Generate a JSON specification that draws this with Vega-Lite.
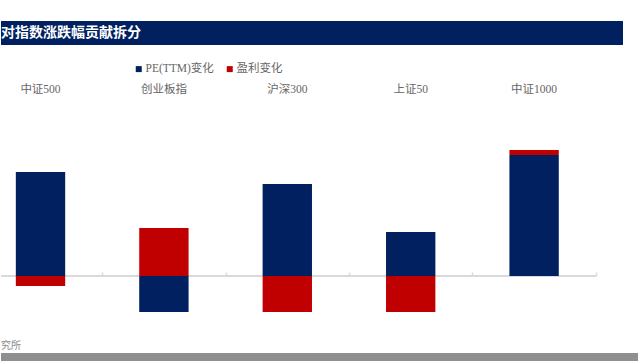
{
  "$schema": "https://vega.github.io/schema/vega-lite/v6.json",
  "padding": {"top": 21, "left": 0, "right": 0, "bottom": 0},
  "background": "white",
  "spacing": 0,
  "bounds": "flush",
  "config": {"view": {"stroke": null}},
  "vconcat": [
    {
      "width": 622,
      "height": 24,
      "view": {"fill": "#002060", "stroke": null},
      "title": {"text": "对指数涨跌幅贡献拆分", "orient": "bottom", "anchor": "start", "frame": "group", "offset": -12, "baseline": "middle", "fontSize": 14, "fontWeight": "bold", "color": "#ffffff", "font": "Noto Sans CJK SC"},
      "data": {"values": [{"t": ""}]},
      "mark": {"type": "text", "text": ""}
    },
    {
      "width": 595,
      "height": 308,
      "title": {"text": "究所", "orient": "bottom", "anchor": "start", "frame": "group", "offset": -12, "fontSize": 10, "fontWeight": "normal", "color": "#8a8a8a", "font": "Noto Sans CJK SC"},
      "data": {"values": [
        {"指数": "中证500", "项目": "PE(TTM)变化", "序": 1, "贡献": 10.4},
        {"指数": "中证500", "项目": "盈利变化", "序": 2, "贡献": -1.0},
        {"指数": "创业板指", "项目": "PE(TTM)变化", "序": 1, "贡献": -3.6},
        {"指数": "创业板指", "项目": "盈利变化", "序": 2, "贡献": 4.8},
        {"指数": "沪深300", "项目": "PE(TTM)变化", "序": 1, "贡献": 9.2},
        {"指数": "沪深300", "项目": "盈利变化", "序": 2, "贡献": -3.6},
        {"指数": "上证50", "项目": "PE(TTM)变化", "序": 1, "贡献": 4.4},
        {"指数": "上证50", "项目": "盈利变化", "序": 2, "贡献": -3.6},
        {"指数": "中证1000", "项目": "PE(TTM)变化", "序": 1, "贡献": 12.1},
        {"指数": "中证1000", "项目": "盈利变化", "序": 2, "贡献": 0.5}
      ]},
      "layer": [
        {
          "mark": {"type": "rule", "color": "#d9d9d9", "strokeWidth": 1.5},
          "encoding": {
            "y": {"datum": 0, "type": "quantitative", "scale": {"domain": [-7.7, 23.1], "nice": false, "zero": false}, "axis": null}
          }
        },
        {
          "mark": {"type": "bar", "width": {"band": 0.4}},
          "encoding": {
            "x": {"field": "指数", "type": "nominal", "sort": ["中证500", "创业板指", "沪深300", "上证50", "中证1000"],
                  "scale": {"range": [-22.2, 594.8], "paddingInner": 0, "paddingOuter": 0},
                  "axis": {"orient": "bottom", "offset": -77, "title": null, "labels": false, "domain": false,
                           "values": ["创业板指", "沪深300", "上证50", "中证1000"],
                           "tickBand": "extent", "tickSize": -4, "tickColor": "#d9d9d9", "tickWidth": 1.5}},
            "y": {"field": "贡献", "type": "quantitative", "stack": "zero", "scale": {"domain": [-7.7, 23.1], "nice": false, "zero": false}, "axis": null},
            "color": {"field": "项目", "type": "nominal",
                      "scale": {"domain": ["PE(TTM)变化", "盈利变化"], "range": ["#002060", "#C00000"]},
                      "legend": {"orient": "none", "legendX": 132, "legendY": 42, "direction": "horizontal", "title": null,
                                 "symbolType": "square", "symbolSize": 36, "symbolStrokeWidth": 0, "labelOffset": 1,
                                 "columnPadding": 10, "padding": 0,
                                 "labelFont": "Liberation Serif, Noto Sans CJK SC", "labelFontSize": 11.5, "labelColor": "#666666"}},
            "order": {"field": "序", "type": "quantitative"}
          }
        },
        {
          "mark": {"type": "text", "text": ""},
          "encoding": {
            "x": {"field": "指数", "type": "nominal", "sort": ["中证500", "创业板指", "沪深300", "上证50", "中证1000"],
                  "axis": {"orient": "top", "offset": -49, "title": null, "domain": false, "ticks": false, "tickSize": 0, "labelPadding": 0,
                           "labelFont": "Liberation Serif, Noto Sans CJK SC", "labelFontSize": 11.5, "labelColor": "#666666", "labelAngle": 0}}
          }
        }
      ],
      "resolve": {"axis": {"x": "independent"}}
    },
    {
      "width": 638,
      "height": 8,
      "view": {"fill": "#8f8f8f", "stroke": null},
      "data": {"values": [{"t": ""}]},
      "mark": {"type": "text", "text": ""}
    }
  ]
}
